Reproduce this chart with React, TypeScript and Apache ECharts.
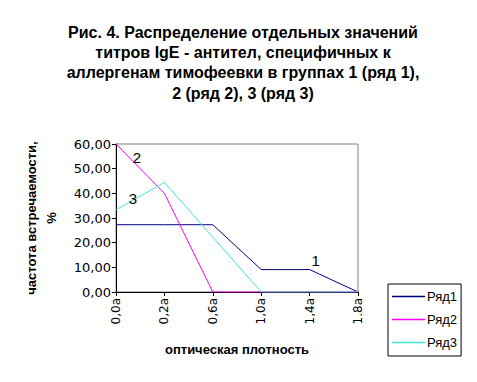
import React, { useEffect, useRef } from "react";
import * as echarts from "echarts";

const categories = ["0,0a", "0,2a", "0,6a", "1,0a", "1,4a", "1.8a"];
const series1 = [27.27, 27.27, 27.27, 9.09, 9.09, 0];
const series2 = [60, 40, 0, 0, 0, 0];
const series3 = [33.33, 44.44, 22.22, 0, 0, 0];
const seriesNames = ["Ряд1", "Ряд2", "Ряд3"];
const titleLines = [
  "Рис. 4. Распределение отдельных значений",
  "титров IgE - антител, специфичных к",
  "аллергенам тимофеевки в группах 1 (ряд 1),",
  "2 (ряд 2), 3 (ряд 3)",
];

export default function App() {
  const ref = useRef<HTMLDivElement>(null);
  useEffect(() => {
    if (!ref.current) return;
    const chart = echarts.init(ref.current, null, { renderer: "svg" });
    const font = "Liberation Sans, Arial, sans-serif";
    const tickFont = "DejaVu Sans, sans-serif";
    chart.setOption({
      animation: false,
      backgroundColor: "#ffffff",
      textStyle: { fontFamily: font },
      title: {
        text: titleLines.join("\n"),
        left: 238,
        textAlign: "center",
        top: 17,
        textStyle: { fontSize: 16, fontWeight: "bold", color: "#000", lineHeight: 20.3, fontFamily: font },
      },
      grid: { left: 116, top: 144, right: 119, bottom: 90, show: true, borderColor: "#808080", borderWidth: 1 },
      legend: {
        orient: "vertical",
        left: 388,
        top: 284,
        padding: [6, 4, 7, 4],
        itemGap: 10,
        itemWidth: 33,
        itemHeight: 14,
        borderColor: "#000",
        borderWidth: 1,
        borderRadius: 0,
        icon: "path://M0,0 L33,0 L33,1.5 L0,1.5 Z",
        textStyle: { fontSize: 13, color: "#000", fontFamily: font, padding: [0, 0, 0, -3] },
        data: seriesNames,
      },
      xAxis: {
        type: "category",
        data: categories,
        boundaryGap: false,
        name: "оптическая плотность",
        nameLocation: "middle",
        nameGap: 51,
        nameTextStyle: { fontSize: 13, fontWeight: "bold", color: "#000", fontFamily: font },
        axisLine: { lineStyle: { color: "#000", width: 1 } },
        axisTick: { show: true, length: 4, lineStyle: { color: "#000" } },
        axisLabel: { rotate: 90, fontSize: 12, color: "#000", margin: 6, fontFamily: tickFont },
        splitLine: { show: false },
      },
      yAxis: {
        type: "value",
        min: 0,
        max: 60,
        interval: 10,
        name: "частота встречаемости,\n%",
        nameLocation: "middle",
        nameGap: 55,
        nameRotate: 90,
        nameTextStyle: { fontSize: 13, fontWeight: "bold", color: "#000", lineHeight: 20, fontFamily: font },
        axisLine: { show: true, lineStyle: { color: "#000", width: 1 } },
        axisTick: { show: true, length: 4, lineStyle: { color: "#000" } },
        axisLabel: {
          fontSize: 13,
          color: "#000",
          margin: 5,
          fontFamily: tickFont,
          formatter: (v: number) => v.toFixed(2).replace(".", ","),
        },
        splitLine: { show: false },
      },
      series: [
        {
          name: seriesNames[0],
          type: "line",
          data: series1,
          symbol: "none",
          lineStyle: { color: "#000080", width: 1 },
          itemStyle: { color: "#000080" },
          markPoint: {
            symbol: "circle",
            symbolSize: 0,
            data: [{ coord: [4, series1[4]], label: { show: true, formatter: "1", offset: [6, -9] } }],
            label: { fontSize: 15, color: "#000", fontFamily: font },
          },
        },
        {
          name: seriesNames[1],
          type: "line",
          data: series2,
          symbol: "none",
          lineStyle: { color: "#FF00FF", width: 1 },
          itemStyle: { color: "#FF00FF" },
          markPoint: {
            symbol: "circle",
            symbolSize: 0,
            data: [{ coord: [0, series2[0]], label: { show: true, formatter: "2", offset: [21, 13] } }],
            label: { fontSize: 15, color: "#000", fontFamily: font },
          },
        },
        {
          name: seriesNames[2],
          type: "line",
          data: series3,
          symbol: "none",
          lineStyle: { color: "#40E8D0", width: 1 },
          itemStyle: { color: "#40E8D0" },
          markPoint: {
            symbol: "circle",
            symbolSize: 0,
            data: [{ coord: [0, series3[0]], label: { show: true, formatter: "3", offset: [17, -11] } }],
            label: { fontSize: 15, color: "#000", fontFamily: font },
          },
        },
      ],
    });
    return () => chart.dispose();
  }, []);
  return <div ref={ref} style={{ width: 477, height: 382, position: "absolute", left: 0, top: 0 }} />;
}
